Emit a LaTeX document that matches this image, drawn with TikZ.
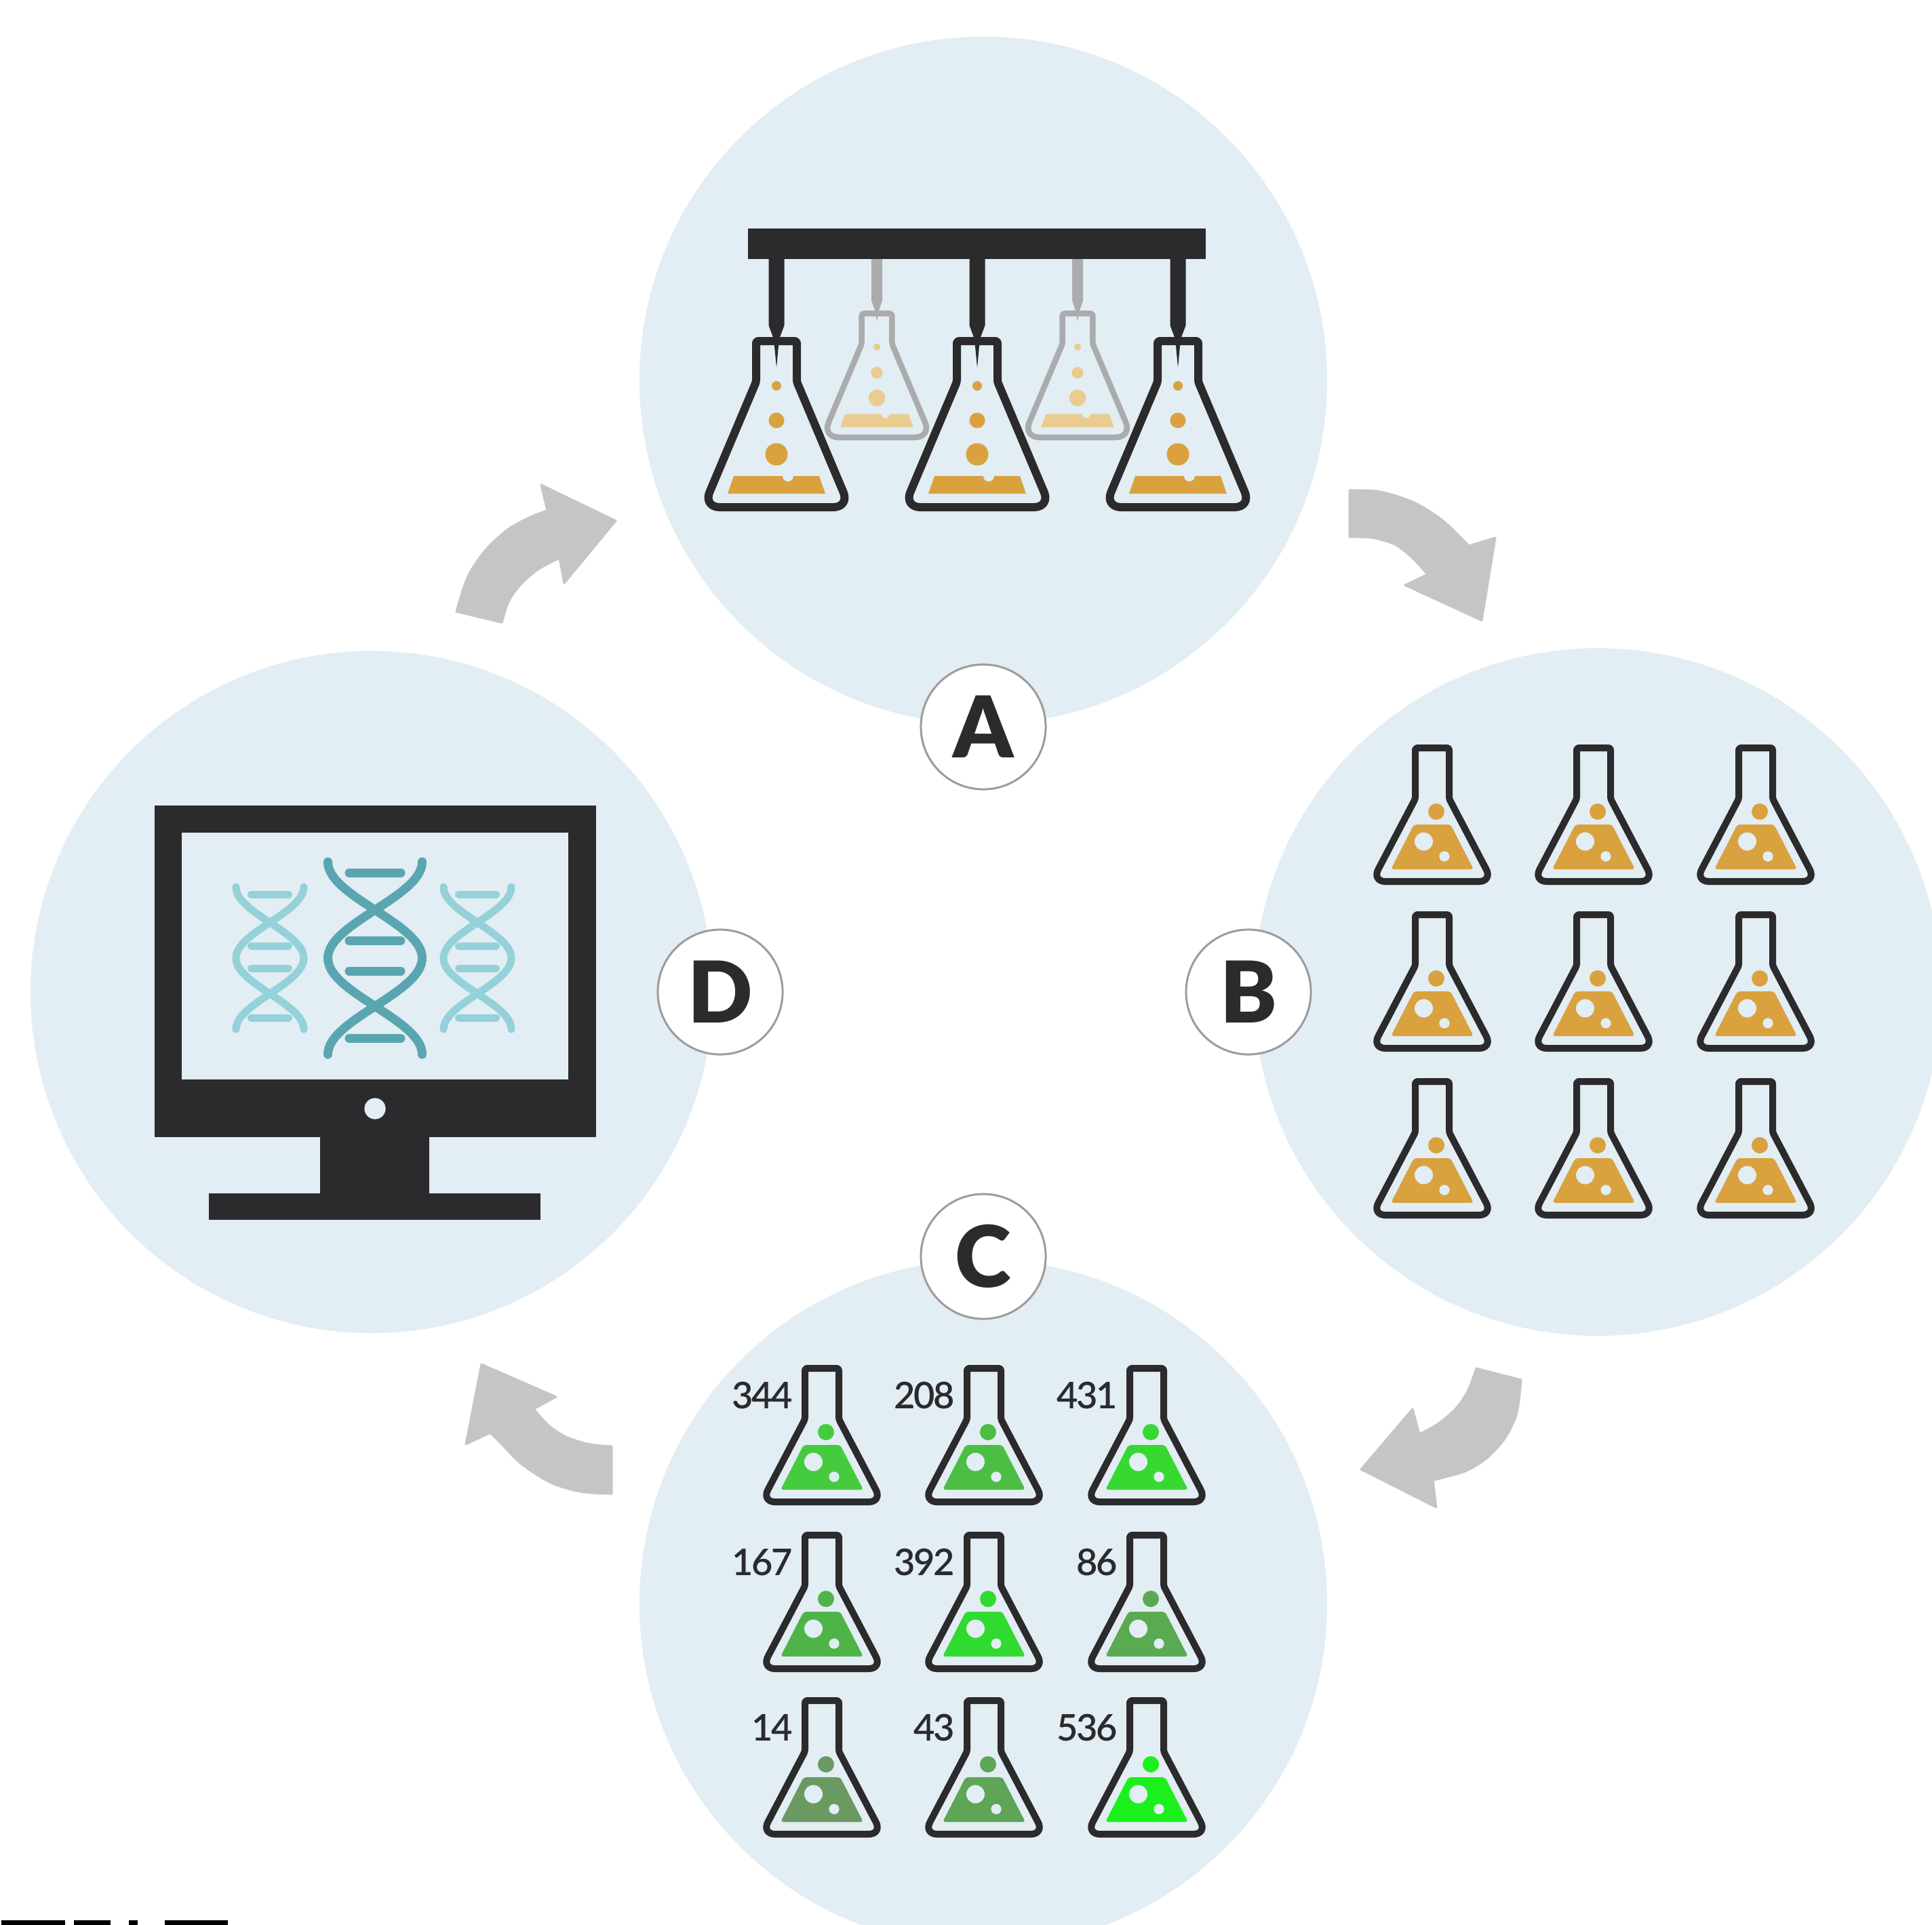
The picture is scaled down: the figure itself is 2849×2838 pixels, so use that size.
\documentclass[tikz,border=0pt]{standalone}
\usepackage{fontspec}
\setmainfont{Lato}
\newfontfamily\countfont[LetterSpace=-4]{Lato Semibold}
\newfontfamily\letterfont{Lato Black}

\definecolor{circlebg}{RGB}{226,237,244}
\definecolor{ink}{HTML}{2B2A2C}
\definecolor{mustard}{HTML}{D9A23F}
\definecolor{paletan}{HTML}{EACB90}
\definecolor{flaskgray}{HTML}{ABABAD}
\definecolor{arrowgray}{HTML}{C4C5C7}
\definecolor{ringgray}{HTML}{9C9C9C}
\definecolor{tealdark}{HTML}{5AA6B0}
\definecolor{teallight}{HTML}{94D1D8}
% culture colours, brighter for higher counts
\definecolor{g536}{HTML}{1CF01C}
\definecolor{g431}{HTML}{38D833}
\definecolor{g392}{HTML}{30DA30}
\definecolor{g344}{HTML}{45CC3E}
\definecolor{g208}{HTML}{4CBE44}
\definecolor{g167}{HTML}{4EB447}
\definecolor{g86}{HTML}{5AAA52}
\definecolor{g43}{HTML}{5EA557}
\definecolor{g14}{HTML}{6A9A62}

% grid flask: #1 x of mouth, #2 top, #3 liquid
\newcommand{\smallflask}[3]{%
  \begin{scope}[shift={(#1,#2)}]
    \fill[#3,rounded corners=0.04cm] (-27,118) -- (27,118) -- (61,184) -- (-61,184) -- cycle;
    \fill[#3] (6,99) circle (12);
    \fill[circlebg] (-12.5,143) circle (13.5) (18,165) circle (7.6);
    \draw[ink,line width=0.1cm,line join=round] (0,202) [rounded corners=0.2cm] -- (-89,202)
      [rounded corners=0.03cm] -- (-25,80) -- (-25,5) -- (25,5) -- (25,80)
      [rounded corners=0.2cm] -- (89,202) -- cycle;
  \end{scope}}

% hanging flask: #1 x, #2 top, #3 scale, #4 glass, #5 liquid, #6 line width
\newcommand{\bigflask}[6]{%
  \begin{scope}[shift={(#1,#2)},scale=#3]
    \fill[#5] (-63,205) -- (63,205) -- (72,231) -- (-72,231) -- cycle;
    \fill[circlebg] (17,205) circle (8);
    \fill[#5] (0,72) circle (7) (0,123) circle (11.5) (0,173) circle (16.5);
    \draw[#4,line width=#6,line join=round] (0,251) [rounded corners=0.24cm] -- (-108,251)
      [rounded corners=0.03cm] -- (-30,66) -- (-30,6) -- (30,6) -- (30,66)
      [rounded corners=0.24cm] -- (108,251) -- cycle;
  \end{scope}}

% double helix: #1 centre x, #2 top, #3 length, #4 half width, #5 line width, #6 colour
\newcommand{\helix}[6]{%
  \draw[#6,line width=#5,line cap=round] plot[domain=0:360,samples=73] ({#1-#4*cos(\x)},{#2+#3/360*\x});
  \draw[#6,line width=#5,line cap=round] plot[domain=0:360,samples=73] ({#1+#4*cos(\x)},{#2+#3/360*\x});}

\begin{document}
\begin{tikzpicture}[x=0.01cm,y=-0.01cm,
    letter/.style={circle,draw=ringgray,line width=0.03cm,fill=white,minimum size=1.84cm,
      inner sep=0pt,text=ink,font=\letterfont\fontsize{35.7}{40}\selectfont},
    count/.style={anchor=base east,inner sep=0pt,text=ink,font=\countfont\fontsize{15.4}{18}\selectfont},
    loop arrow/.style={fill=arrowgray,draw=arrowgray,line width=0.03cm,line join=round}]
  \clip (0,0) rectangle (2849,2838);
  \fill[white] (0,0) rectangle (2849,2838);

  % the four stages
  \fill[circlebg] (1450,561) circle (507);
  \fill[circlebg] (2356,1463) circle (507);
  \fill[circlebg] (1450,2365) circle (507);
  \fill[circlebg] (548,1463) circle (503);

  % A: dispenser over the flasks
  \bigflask{1293}{458}{0.745}{flaskgray}{paletan}{0.085cm}
  \bigflask{1589}{458}{0.745}{flaskgray}{paletan}{0.085cm}
  \foreach \px in {1293,1589} {
    \fill[flaskgray] (\px-8,380) -- (\px-8,443) -- (\px-3,458) -- (\px,474) -- (\px+3,458) -- (\px+8,443) -- (\px+8,380) -- cycle;
  }
  \foreach \px in {1145,1441,1737} {
    \bigflask{\px}{497}{1}{ink}{mustard}{0.12cm}
    \fill[ink] (\px-11.5,380) -- (\px-11.5,480) -- (\px-4,500) -- (\px,542) -- (\px+4,500) -- (\px+11.5,480) -- (\px+11.5,380) -- cycle;
  }
  \fill[ink] (1103,337) rectangle (1778,382);

  % B: grown cultures
  \foreach \fx in {2112,2350,2589} {
    \foreach \fy in {1098,1344,1590} {
      \smallflask{\fx}{\fy}{mustard}
    }
  }

  % C: measured cultures
  \foreach \fx/\fy/\n in {1212/2013/344,1451/2013/208,1691/2013/431,
      1212/2259/167,1451/2259/392,1691/2259/86,
      1212/2503/14,1451/2503/43,1691/2503/536} {
    \smallflask{\fx}{\fy}{g\n}
    \node[count] (n\n) at (\fx-42,\fy+64) {\n};
  }

  % D: sequencing on the monitor
  \fill[ink] (228,1188) rectangle (879,1677);
  \fill[circlebg] (268,1228) rectangle (838,1592);
  \fill[circlebg] (553,1635) circle (15.6);
  \fill[ink] (472,1676) rectangle (633,1761);
  \fill[ink] (308,1760) rectangle (797,1799);
  \helix{398}{1308}{210}{50}{0.11cm}{teallight}
  \helix{704}{1308}{210}{50}{0.11cm}{teallight}
  \helix{553}{1271}{284}{69.5}{0.13cm}{tealdark}
  \foreach \ry in {1319,1395,1428,1501} {
    \draw[teallight,line width=0.11cm,line cap=round] (370.5,\ry) -- (425.5,\ry);
    \draw[teallight,line width=0.11cm,line cap=round] (676.5,\ry) -- (731.5,\ry);
  }
  \foreach \ry in {1287,1387,1432,1531} {
    \draw[tealdark,line width=0.13cm,line cap=round] (515,\ry) -- (591,\ry);
  }

  % arrows between the stages
  \filldraw[loop arrow] plot[smooth] coordinates {(673,902) (690,850) (717,810) (750,780) (783,762) (807,753)}
    -- (798,715) -- (908,768) -- (832,860) -- (825,823)
    -- plot[smooth] coordinates {(825,823) (793,840) (767,863) (750,887) (740,918)} -- cycle;
  \filldraw[loop arrow] plot[smooth] coordinates {(1990,723) (2035,725) (2085,741) (2128,768) (2166,805)}
    -- (2205,793) -- (2185,915) -- (2072,863) -- (2105,847)
    -- plot[smooth] coordinates {(2105,847) (2083,823) (2057,803) (2023,793) (1990,792)} -- cycle;
  \filldraw[loop arrow] plot[smooth] coordinates {(2243,2035) (2237,2083) (2220,2120) (2193,2150) (2160,2170) (2113,2183)}
    -- (2118,2223) -- (2007,2167) -- (2083,2078) -- (2093,2115)
    -- plot[smooth] coordinates {(2093,2115) (2120,2100) (2147,2077) (2165,2050) (2177,2018)} -- cycle;
  \filldraw[loop arrow] plot[smooth] coordinates {(902,2203) (857,2200) (813,2187) (770,2160) (740,2130) (723,2113)}
    -- (687,2130) -- (710,2012) -- (820,2060) -- (787,2078)
    -- plot[smooth] coordinates {(787,2078) (810,2103) (837,2120) (870,2130) (902,2133)} -- cycle;

  % stage letters
  \node[letter] (labA) at (1450,1072) {A};
  \node[letter] (labB) at (1841,1463) {B};
  \node[letter] (labC) at (1450,1853) {C};
  \node[letter] (labD) at (1062,1463) {D};

  % cut-off marks along the bottom edge
  \fill[black] (2,2832) rectangle (96,2840);
  \fill[black] (109,2832) rectangle (163,2840);
  \fill[black] (190,2832) rectangle (203,2840);
  \fill[black] (243,2832) rectangle (336,2840);
\end{tikzpicture}
\end{document}
